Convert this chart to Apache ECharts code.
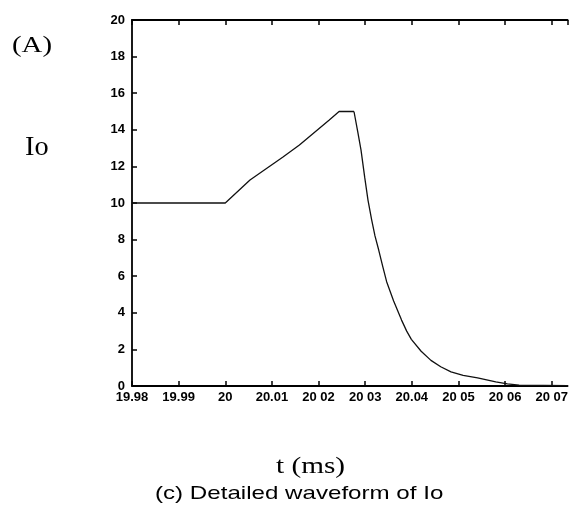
<!DOCTYPE html>
<html>
<head>
<meta charset="utf-8">
<script src="https://cdn.jsdelivr.net/npm/echarts@6/dist/echarts.min.js"></script>
<style>html,body{margin:0;padding:0;background:#fff;}#c{width:571px;height:521px;}</style>
</head>
<body>
<div id="c"></div>
<script>
// time (ms) — flat + linear rise + flat top
var tRise = [19.98, 19.99, 20.0, 20.0053, 20.0123, 20.0159, 20.0223, 20.0244, 20.0276];
var ioRise = [10, 10, 10, 11.26, 12.5, 13.17, 14.54, 15, 15];
// time (ms) — exponential decay
var tDecay = [20.0276, 20.0284, 20.0291, 20.0299, 20.0306, 20.0314, 20.0321, 20.0329, 20.0338, 20.0346, 20.0361, 20.0378, 20.0389, 20.0399, 20.042, 20.0441, 20.0462, 20.0484, 20.051, 20.0541, 20.058, 20.0605, 20.063, 20.0734];
var ioDecay = [15, 13.9, 12.9, 11.4, 10.16, 9.07, 8.2, 7.43, 6.5, 5.7, 4.65, 3.6, 3.0, 2.55, 1.9, 1.4, 1.05, 0.77, 0.58, 0.44, 0.22, 0.12, 0.05, 0.02];
var xTickLabels = ['19.98', '19.99', '20', '20.01', '20 02', '20 03', '20.04', '20 05', '20 06', '20 07'];
var yTickLabels = ['0', '2', '4', '6', '8', '10', '12', '14', '16', '18', '20'];

var chart = echarts.init(document.getElementById('c'));
function pairs(ts, vs) { return ts.map(function (t, i) { return [t, vs[i]]; }); }
var tickFont = { fontFamily: 'Liberation Sans, Arial', fontWeight: 'bold', fontSize: 13, color: '#000' };
var axLine = { show: true, lineStyle: { color: '#000', width: 1.8 } };
var axTick = { show: true, inside: true, length: 5, lineStyle: { color: '#000', width: 1.5 } };

chart.setOption({
  animation: false,
  backgroundColor: '#fff',
  grid: { left: 132, top: 20, right: 0, bottom: 135, containLabel: false },
  xAxis: [{
    type: 'value', min: 19.98, max: 20.0734, interval: 0.01,
    position: 'bottom',
    axisLine: axLine, axisTick: axTick, splitLine: { show: false },
    axisLabel: Object.assign({
      margin: 5, showMaxLabel: false,
      formatter: function (v) {
        var k = Math.round((v - 19.98) / 0.01);
        if (Math.abs(v - (19.98 + k * 0.01)) > 1e-6) return '';
        return xTickLabels[k] !== undefined ? xTickLabels[k] : '';
      }
    }, tickFont)
  }, {
    type: 'value', min: 19.98, max: 20.0734, interval: 0.01,
    position: 'top',
    axisLine: axLine, axisTick: axTick, splitLine: { show: false },
    axisLabel: { show: false }
  }],
  yAxis: [{
    type: 'value', min: 0, max: 20, interval: 2,
    axisLine: axLine, axisTick: axTick, splitLine: { show: false },
    axisLabel: Object.assign({
      margin: 7,
      formatter: function (v) { var k = Math.round(v / 2); return yTickLabels[k] || ''; }
    }, tickFont)
  }],
  series: [{
    type: 'line', data: pairs(tRise, ioRise), showSymbol: false, smooth: false,
    lineStyle: { color: '#111', width: 1.3 }
  }, {
    type: 'line', data: pairs(tDecay, ioDecay), showSymbol: false, smooth: false,
    lineStyle: { color: '#111', width: 1.3 }
  }],
  graphic: [
    { type: 'text', x: 12, y: 34, scaleX: 1.2, style: { text: '(A)', font: '24px "Liberation Serif", serif', fill: '#000' } },
    { type: 'text', x: 25, y: 134, scaleX: 1.05, style: { text: 'Io', font: '27px "Liberation Serif", serif', fill: '#000' } },
    { type: 'text', x: 276, y: 455, scaleX: 1.22, style: { text: 't (ms)', font: '24px "Liberation Serif", serif', fill: '#000' } },
    { type: 'text', x: 155, y: 484, scaleX: 1.27, style: { text: '(c) Detailed waveform of Io', font: '19px "Liberation Sans", Arial, sans-serif', fill: '#000' } }
  ]
});
</script>
</body>
</html>
